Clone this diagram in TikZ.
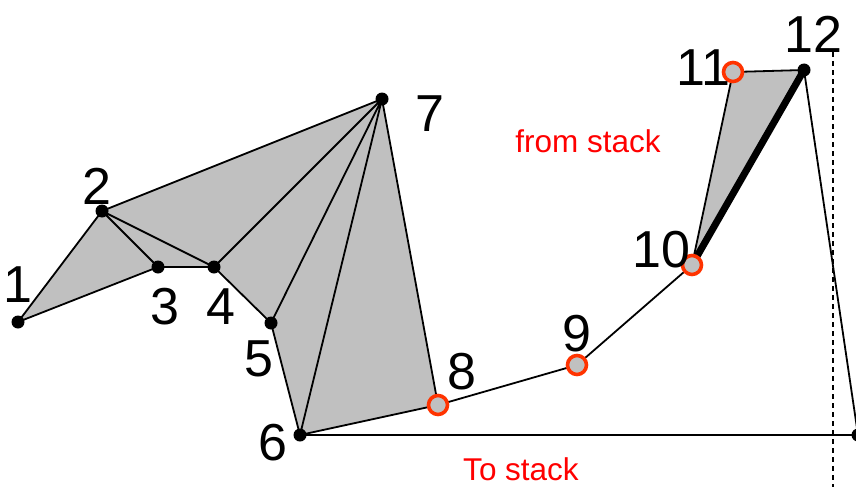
\documentclass[tikz,border=0pt]{standalone}
\usepackage{fontspec}
\setmainfont{Liberation Sans}
\definecolor{fillgray}{HTML}{C0C0C0}
\definecolor{ored}{HTML}{FF3300}
\begin{document}
\begin{tikzpicture}[x=1pt,y=-1pt,
  blk/.style={circle,fill=black,inner sep=0pt,minimum size=13pt},
  rc/.style={circle,draw=ored,line width=3.6pt,fill=fillgray,inner sep=0pt,minimum size=19pt},
  edge/.style={line width=1.8pt,black},
  lbl/.style={font=\fontsize{52}{54}\selectfont,inner sep=0pt},
  rlbl/.style={font=\fontsize{31.5}{33}\selectfont,text=red,inner sep=0pt}]
\useasboundingbox (0,0) rectangle (856,487);
% coordinates
\coordinate (p1) at (18,322);
\coordinate (p2) at (102,211);
\coordinate (p3) at (158,267);
\coordinate (p4) at (214,267);
\coordinate (p5) at (271,323);
\coordinate (p6) at (300,435);
\coordinate (p7) at (382,99);
\coordinate (p8) at (438,405);
\coordinate (p9) at (577,365);
\coordinate (p10) at (692,265);
\coordinate (p11) at (733,72);
\coordinate (p12) at (804,70);
\coordinate (p13) at (858,435);
% fills
\fill[fillgray] (p1)--(p2)--(p7)--(p8)--(p6)--(p5)--(p4)--(p3)--cycle;
\fill[fillgray] (p10)--(p11)--(p12)--cycle;
% dashed
\draw[line width=2.6pt,dash pattern=on 5pt off 4pt] (833,52) -- (833,487);
% edges
\draw[edge] (p1)--(p2) (p1)--(p3) (p2)--(p3) (p2)--(p4) (p3)--(p4)
  (p2)--(p7) (p4)--(p7) (p4)--(p5) (p5)--(p7) (p5)--(p6) (p6)--(p7)
  (p7)--(p8) (p6)--(p8) (p8)--(p9) (p9)--(p10) (p10)--(p11) (p11)--(p12)
  (p12)--(p13) (p6)--(p13);
\draw[line width=7pt,line cap=round] (p10)--(p12);
% vertices
\node[blk] (n1) at (p1) {};
\node[blk] (n2) at (p2) {};
\node[blk] (n3) at (p3) {};
\node[blk] (n4) at (p4) {};
\node[blk] (n5) at (p5) {};
\node[blk] (n6) at (p6) {};
\node[blk] (n7) at (p7) {};
\node[blk] (n12) at (p12) {};
\node[blk] (n13) at (p13) {};
\node[rc] (n8) at (p8) {};
\node[rc] (n9) at (p9) {};
\node[rc] (n10) at (p10) {};
\node[rc] (n11) at (p11) {};
% labels
\node[lbl] (l1) at (18,285) {1};
\node[lbl] (l2) at (97,186) {2};
\node[lbl] (l3) at (165,307) {3};
\node[lbl] (l4) at (221,307) {4};
\node[lbl] (l5) at (259,359) {5};
\node[lbl] (l6) at (273,443) {6};
\node[lbl] (l7) at (430,114) {7};
\node[lbl] (l8) at (462,372) {8};
\node[lbl] (l9) at (577,334) {9};
\node[lbl] (l10) at (661,250) {10};
\node[lbl] (l11) at (703,68) {11};
\node[lbl] (l12) at (813,34) {12};
\node[rlbl] (fs) at (588,141) {from stack};
\node[rlbl] (ts) at (521,469) {To stack};
\end{tikzpicture}
\end{document}
